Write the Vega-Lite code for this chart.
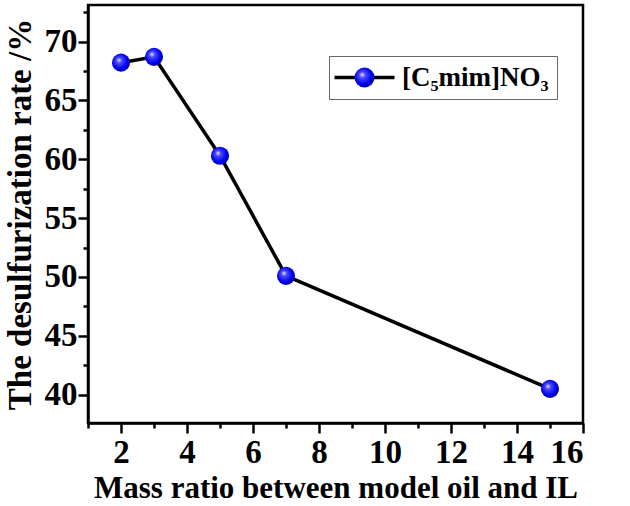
{
  "$schema": "https://vega.github.io/schema/vega-lite/v6.json",
  "description": "Desulfurization rate vs mass ratio between model oil and IL",
  "width": 495,
  "height": 418,
  "autosize": "none",
  "padding": {"left": 88, "top": 5, "right": 47, "bottom": 83},
  "background": "white",
  "config": {
    "view": {"stroke": "black", "strokeWidth": 2.5},
    "font": "Liberation Serif",
    "axis": {
      "grid": false,
      "domainColor": "black",
      "domainWidth": 2.5,
      "tickColor": "black",
      "tickWidth": 2.5,
      "labelFont": "Liberation Serif",
      "labelFontWeight": "bold",
      "labelFontSize": 33,
      "labelColor": "black",
      "titleFont": "Liberation Serif",
      "titleFontWeight": "bold",
      "titleColor": "black"
    }
  },
  "data": {
    "values": [
      {"ratio": 2, "rate": 68.2, "series": "[C₅mim]NO₃", "marker": "[C₅mim]NO₃"},
      {"ratio": 3, "rate": 68.7, "series": "[C₅mim]NO₃", "marker": "[C₅mim]NO₃"},
      {"ratio": 5, "rate": 60.3, "series": "[C₅mim]NO₃", "marker": "[C₅mim]NO₃"},
      {"ratio": 7, "rate": 50.1, "series": "[C₅mim]NO₃", "marker": "[C₅mim]NO₃"},
      {"ratio": 15, "rate": 40.5, "series": "[C₅mim]NO₃", "marker": "[C₅mim]NO₃"}
    ]
  },
  "encoding": {
    "x": {
      "field": "ratio",
      "type": "quantitative",
      "title": "Mass ratio between model oil and IL",
      "scale": {"domain": [1, 16], "nice": false, "zero": false},
      "axis": {
        "values": [1, 2, 3, 4, 5, 6, 7, 8, 9, 10, 11, 12, 13, 14, 15, 16],
        "labelExpr": "datum.value % 2 === 0 ? datum.label : ''",
        "tickSize": {"condition": {"test": "datum.value % 2 === 0", "value": 10}, "value": 5},
        "labelPadding": 3,
        "titleFontSize": 31,
        "titlePadding": 4
      }
    },
    "y": {
      "field": "rate",
      "type": "quantitative",
      "title": "The desulfurization rate /%",
      "scale": {"domain": [37.6, 73.1], "nice": false, "zero": false},
      "axis": {
        "values": [40, 42.5, 45, 47.5, 50, 52.5, 55, 57.5, 60, 62.5, 65, 67.5, 70, 72.5],
        "labelExpr": "datum.value % 5 === 0 ? datum.label : ''",
        "tickSize": {"condition": {"test": "datum.value % 5 === 0", "value": 10}, "value": 5},
        "labelPadding": 1,
        "titleFontSize": 33,
        "titlePadding": 7
      }
    }
  },
  "layer": [
    {
      "mark": {"type": "line", "strokeWidth": 3.5},
      "encoding": {
        "color": {
          "field": "series",
          "type": "nominal",
          "scale": {"range": ["black"]},
          "legend": {
            "title": null,
            "orient": "none",
            "legendX": 241,
            "legendY": 51,
            "strokeColor": "#666",
            "fillColor": "white",
            "padding": 8,
            "symbolType": "M-3,0H3",
            "symbolSize": 400,
            "symbolOffset": 14,
            "symbolStrokeWidth": 3.5,
            "labelOffset": 24,
            "labelFont": "Liberation Serif",
            "labelFontWeight": "bold",
            "labelFontSize": 27,
            "labelColor": "black",
            "labelLimit": 400
          }
        }
      }
    },
    {
      "mark": {
        "type": "point",
        "filled": true,
        "opacity": 1,
        "size": 330,
        "color": {
          "gradient": "radial",
          "x1": 0.38, "y1": 0.35, "r1": 0,
          "x2": 0.45, "y2": 0.45, "r2": 0.6,
          "stops": [
            {"offset": 0, "color": "#f0f0ff"},
            {"offset": 0.25, "color": "#4a4aff"},
            {"offset": 0.7, "color": "#0000f0"},
            {"offset": 1, "color": "#0000a0"}
          ]
        }
      },
      "encoding": {
        "shape": {
          "field": "marker",
          "type": "nominal",
          "scale": {"range": ["circle"]},
          "legend": {
            "title": null,
            "orient": "none",
            "legendX": 241,
            "legendY": 51,
            "padding": 8,
            "symbolSize": 400,
            "symbolOffset": 14,
            "labelOffset": 24,
            "labelFont": "Liberation Serif",
            "labelFontWeight": "bold",
            "labelFontSize": 27,
            "labelOpacity": 0,
            "labelLimit": 400
          }
        }
      }
    }
  ]
}
